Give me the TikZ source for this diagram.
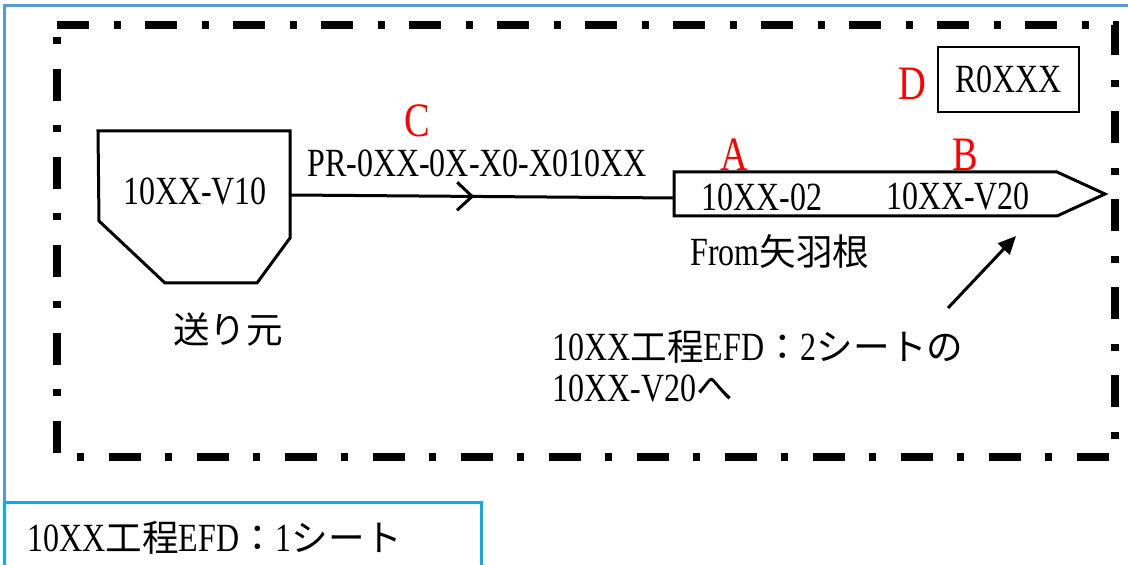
\documentclass[tikz,border=0pt]{standalone}
\usepackage{fontspec}
\setmainfont{Liberation Serif}[FakeStretch=0.8]
\newfontfamily\jpfont{Noto Sans CJK JP}[Scale=0.915]
\usetikzlibrary{arrows.meta,decorations.markings}
\definecolor{frameblue}{HTML}{5B9BD5}
\definecolor{sheetblue}{HTML}{00B0F0}

\begin{document}
\begin{tikzpicture}[x=0.5pt,y=-0.5pt,
        every node/.style={font=\fontsize{20}{20.5}\selectfont, inner sep=0pt},
        tag/.style={text=red, font=\fontsize{24}{28}\selectfont},
        pipe/.style={line width=1.5pt}]
        \useasboundingbox (0,0) rectangle (1128,565);

        % sheet frames
        \draw[frameblue, line width=1.5pt] (4,6) rectangle (1140,600);
        \draw[sheetblue, line width=1.5pt, fill=white] (4,503) rectangle (481,600);
        \node[anchor=west] (sheet) at (27,538) {10XX{\jpfont 工程}EFD{\jpfont ：}1{\jpfont シート}};

        % dash-dot boundary
        \draw[line width=4pt, dash pattern=on 16pt off 12.5pt on 3.5pt off 12pt]
            (57,25) -- (1115,25) -- (1115,457) -- (57,457) -- cycle;

        % vessel
        \draw[pipe] (98,131) -- (290,131) -- (290,238) -- (257,283) -- (165,283) -- (99,221) -- cycle;
        \node (v10) at (195,192) {10XX-V10};
        \node (src) at (228,330) {\jpfont 送り元};
        \coordinate (v10out) at (290,195);

        % off-page connector
        \draw[pipe] (674,172) -- (1057,172) -- (1105,194) -- (1057,216) -- (674,216) -- cycle;
        \coordinate (offin) at (674,198);
        \node (a02) at (762,197) {10XX-02};
        \node (v20) at (958,197) {10XX-V20};
        \node (from) at (780,252) {From{\jpfont 矢羽根}};

        % line
        \draw[pipe, postaction={decorate}, decoration={markings,
            mark=at position 0.48 with {\arrow{Straight Barb[length=7.5pt,width=14pt]}}}]
            (v10out) -- (offin);
        \node (lineno) at (477,163) {PR-0XX-0X-X0-X010XX};

        % tags
        \node[tag] (tagC) at (417,121) {C};
        \node[tag] (tagA) at (734,155) {A};
        \node[tag] (tagB) at (965,155) {B};
        \node[tag] (tagD) at (912,84) {D};
        \node[draw, line width=1pt, minimum width=70.5pt, minimum height=32.5pt] (rev) at (1008.5,79.5) {R0XXX};

        % note
        \node[anchor=west, align=left] (note) at (552,366)
            {10XX{\jpfont 工程}EFD{\jpfont ：}2{\jpfont シートの}\\10XX-V20{\jpfont へ}};
        \coordinate (notetail) at (948,308);
        \coordinate (notetip) at (1016,236);
        \draw[pipe, -{Triangle[length=9pt,width=8pt]}] (notetail) -- (notetip);
\end{tikzpicture}
\end{document}
